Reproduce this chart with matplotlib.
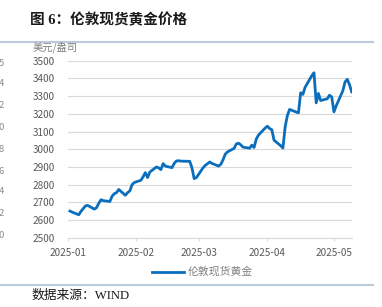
import matplotlib
matplotlib.use("Agg")
import matplotlib.pyplot as plt
import matplotlib.dates as mdates
import pandas as pd
from matplotlib.lines import Line2D

plt.rcParams['font.family'] = ['Noto Sans CJK SC', 'DejaVu Sans']

title = "图 6：伦敦现货黄金价格"
unit_label = "美元/盎司"
series_name = "伦敦现货黄金"
source = "数据来源：WIND"

start_date = "2025-01-02"
end_date = "2025-05-09"

jan_vals = [2651, 2645, 2630, 2650, 2665, 2680, 2683, 2662, 2670, 2695, 2715,
            2710, 2705, 2735, 2749, 2755, 2773, 2740, 2755, 2765, 2800, 2812]
feb_vals = [2825, 2845, 2868, 2840, 2871, 2900, 2895, 2885, 2919, 2905, 2896,
            2920, 2934, 2935, 2933, 2932, 2932, 2895, 2834, 2840]
mar_vals = [2895, 2909, 2918, 2928, 2920, 2905, 2915, 2940, 2972, 2985, 3005,
            3030, 3034, 3025, 3012, 3006, 3023, 3010, 3058, 3080, 3120]
apr_vals = [3130, 3117, 3110, 3051, 3020, 3007, 3126, 3190, 3225, 3210, 3206,
            3319, 3310, 3350, 3415, 3432, 3262, 3315, 3275, 3285, 3305, 3295]
may_vals = [3211, 3245, 3330, 3380, 3395, 3365, 3324]

values = jan_vals + feb_vals + mar_vals + apr_vals + may_vals
dates = pd.bdate_range(start_date, end_date)[:len(values)]

y_ticks = [2500, 2600, 2700, 2800, 2900, 3000, 3100, 3200, 3300, 3400, 3500]
x_ticks = ["2025-01-01", "2025-02-01", "2025-03-01", "2025-04-01", "2025-05-01"]
stray_labels = ["5", "4", "2", "0", "8", "6", "4", "2", "0"]
stray_y = [63, 83, 106, 128, 149, 171, 192, 213, 236]

serif_cjk = ['Liberation Serif', 'Noto Sans CJK SC']

W, H = 382, 307
fig = plt.figure(figsize=(W / 100, H / 100), dpi=100)
ax = fig.add_axes([67.7 / W, 1 - 237.8 / H, (351.7 - 67.7) / W, (237.8 - 60.7) / H])

ax.plot(dates, values, color="#0a6ebd", lw=2.0, solid_joinstyle="round")

ax.set_ylim(2500, 3500)
ax.set_yticks(y_ticks)
ax.set_xlim(pd.Timestamp("2025-01-01"), pd.Timestamp("2025-05-09"))
ax.set_xticks([pd.Timestamp(t) for t in x_ticks])
ax.xaxis.set_major_formatter(mdates.DateFormatter("%Y-%m"))

ax.grid(axis="y", color="#d9d9d9", lw=0.8)
ax.set_axisbelow(True)
for s in ["top", "right", "left"]:
    ax.spines[s].set_visible(False)
ax.spines["bottom"].set_color("#d9d9d9")
ax.spines["bottom"].set_linewidth(0.8)
ax.tick_params(axis="y", length=0, labelsize=7.2, labelcolor="#595959", pad=9.5)
ax.tick_params(axis="x", length=2, color="#d9d9d9", labelsize=7.2,
               labelcolor="#595959", pad=5)

fig.text(33 / W, 1 - 47 / H, unit_label, fontsize=7.4, color="#7f7f7f",
         va="center", ha="left")

fig.text(30 / W, 1 - 20 / H, title, fontsize=10.5, fontweight="bold",
         color="#1a1a1a", va="center", ha="left", family=serif_cjk)

fig.add_artist(Line2D([0, 373 / W], [1 - 42 / H, 1 - 42 / H],
                      color="#bccbdb", lw=1.5, transform=fig.transFigure))
fig.add_artist(Line2D([0, 373 / W], [1 - 284.5 / H, 1 - 284.5 / H],
                      color="#bccbdb", lw=1.5, transform=fig.transFigure))

fig.text(32 / W, 1 - 295.5 / H, source, fontsize=9.2, color="#1a1a1a",
         va="center", ha="left", family=serif_cjk)

# legend
fig.add_artist(Line2D([152 / W, 184 / W], [1 - 271.5 / H, 1 - 271.5 / H],
                      color="#0a6ebd", lw=2.0, transform=fig.transFigure))
fig.text(188 / W, 1 - 271.5 / H, series_name, fontsize=7.8, color="#7f7f7f",
         va="center", ha="left")

for lab, yy in zip(stray_labels, stray_y):
    fig.text(4 / W, 1 - yy / H, lab, fontsize=6.8, color="#8c8c8c",
             va="center", ha="right")

fig.savefig("out.png", dpi=100, facecolor="white")
